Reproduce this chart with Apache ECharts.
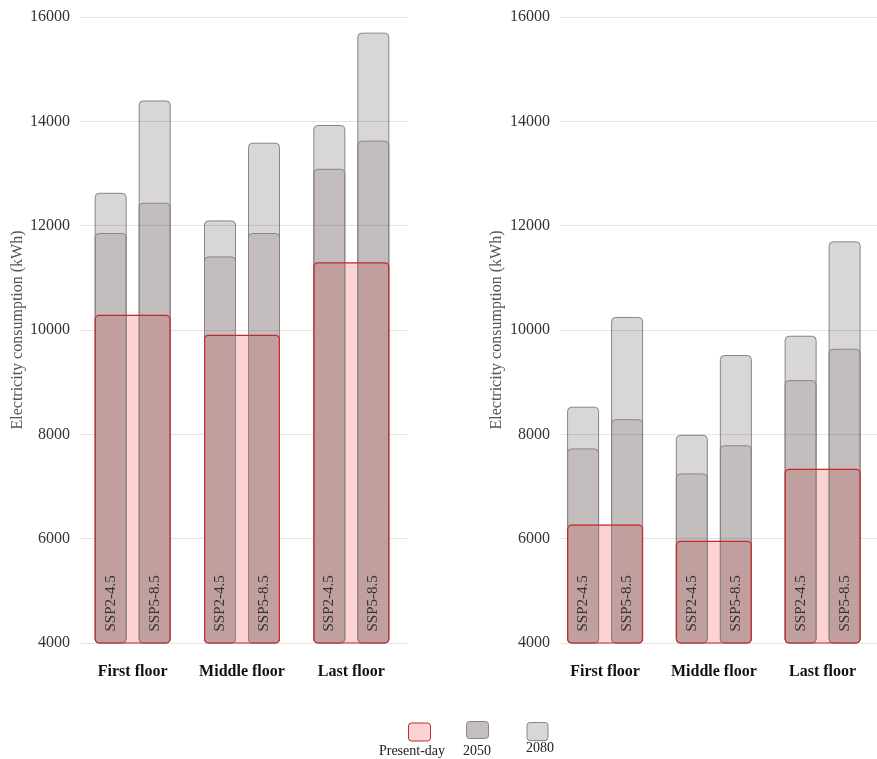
<!DOCTYPE html>
<html>
<head>
<meta charset="utf-8">
<script src="https://cdn.jsdelivr.net/npm/echarts@6/dist/echarts.min.js"></script>
<style>
  html, body { margin: 0; padding: 0; background: #ffffff; }
  #chart { width: 877px; height: 759px; }
</style>
</head>
<body>
<div id="chart"></div>
<script>
// Annual electricity consumption per floor, two building cases side by side
const categories = ['First floor', 'Middle floor', 'Last floor'];
const scenarioLabels = ['SSP2-4.5', 'SSP5-8.5'];
const yMin = 4000, yMax = 16000, yStep = 2000;

// Left panel (kWh)
const leftPresent     = [10290, 9910, 11300];
const left2050Ssp245  = [11860, 11410, 13090];
const left2050Ssp585  = [12440, 11860, 13630];
const left2080Ssp245  = [12630, 12100, 13930];
const left2080Ssp585  = [14400, 13590, 15700];

// Right panel (kWh)
const rightPresent    = [6270, 5960, 7340];
const right2050Ssp245 = [7730, 7250, 9040];
const right2050Ssp585 = [8290, 7790, 9640];
const right2080Ssp245 = [8530, 7990, 9890];
const right2080Ssp585 = [10250, 9520, 11700];

const legendNames = ['Present-day', '2050', '2080'];

const SERIF = '"Liberation Serif", "DejaVu Serif", serif';
const PINK = '#fcd2d2';
const RED = '#c62a2a';
const GREY_EDGE = '#8a8585';
const FILL_2080 = 'rgba(38,27,27,0.18)';
const FILL_2050 = 'rgba(105,80,80,0.18)';

const grids = [], xAxes = [], yAxes = [], series = [];

function addPanel(d, barsGrid, frameGrid, nameGap) {
  const gBars = grids.length;
  grids.push(barsGrid);
  const gFrame = grids.length;
  grids.push(frameGrid);

  const x0 = xAxes.length;
  xAxes.push({
    gridIndex: gBars, type: 'category', data: categories,
    axisLine: { show: false }, axisTick: { show: false },
    axisLabel: { interval: 0, margin: 21, fontFamily: SERIF, fontWeight: 'bold', fontSize: 16, color: '#111' }
  });
  xAxes.push({ gridIndex: gBars, type: 'category', data: categories, show: false });
  xAxes.push({ gridIndex: gBars, type: 'category', data: categories, show: false });
  xAxes.push({ gridIndex: gFrame, type: 'category', data: categories, show: false });

  const y0 = yAxes.length;
  yAxes.push({ gridIndex: gBars, type: 'value', min: yMin, max: yMax, interval: yStep, show: false });
  yAxes.push({
    gridIndex: gFrame, type: 'value', min: yMin, max: yMax, interval: yStep,
    name: 'Electricity consumption (kWh)', nameLocation: 'middle', nameGap: nameGap,
    nameTextStyle: { fontFamily: SERIF, fontSize: 16, color: '#555' },
    axisLine: { show: false }, axisTick: { show: false },
    axisLabel: {
      margin: 10, fontFamily: SERIF, fontSize: 16, color: '#333',
      formatter: v => String(v)
    },
    splitLine: { lineStyle: { color: '#e3e3e3', width: 1 } }
  });

  // present-day fill spans both scenario bars
  series.push({
    type: 'bar', name: legendNames[0], xAxisIndex: x0, yAxisIndex: y0,
    data: d.present, barWidth: 76, barGap: '-100%', silent: true,
    itemStyle: { color: PINK, borderRadius: 4 }
  });
  // 2080 bars
  [d.y2080a, d.y2080b].forEach(vals => series.push({
    type: 'bar', name: legendNames[2], xAxisIndex: x0 + 1, yAxisIndex: y0,
    data: vals, barWidth: 32, barGap: '37.5%', silent: true,
    itemStyle: { color: FILL_2080, borderColor: GREY_EDGE, borderWidth: 1, borderRadius: 4 }
  }));
  // 2050 bars, carrying the scenario names
  [d.y2050a, d.y2050b].forEach((vals, i) => series.push({
    type: 'bar', name: legendNames[1], xAxisIndex: x0 + 2, yAxisIndex: y0,
    data: vals, barWidth: 32, barGap: '37.5%', silent: true,
    itemStyle: { color: FILL_2050, borderColor: GREY_EDGE, borderWidth: 1, borderRadius: 4 },
    label: {
      show: true, position: 'insideBottom', distance: 12, rotate: 90,
      align: 'left', verticalAlign: 'middle',
      formatter: scenarioLabels[i],
      fontFamily: SERIF, fontSize: 15, color: '#333'
    }
  }));
  // present-day outline drawn over the grey bars
  series.push({
    type: 'bar', name: legendNames[0], xAxisIndex: x0, yAxisIndex: y0,
    data: d.present, barWidth: 76, barGap: '-100%', silent: true,
    itemStyle: { color: 'rgba(0,0,0,0)', borderColor: RED, borderWidth: 1.2, borderRadius: 4 }
  });
}

addPanel(
  { present: leftPresent, y2050a: left2050Ssp245, y2050b: left2050Ssp585,
    y2080a: left2080Ssp245, y2080b: left2080Ssp585 },
  { left: 78, width: 328, top: 17, height: 626 },
  { left: 80, width: 327, top: 17, height: 626 },
  50
);
addPanel(
  { present: rightPresent, y2050a: right2050Ssp245, y2050b: right2050Ssp585,
    y2080a: right2080Ssp245, y2080b: right2080Ssp585 },
  { left: 550.7, width: 330, top: 17, height: 626 },
  { left: 560, right: 0, top: 17, height: 626 },
  55
);

// Legend: swatch with its caption underneath
const legendItems = [
  { x: 408, y: 722.5, w: 22, h: 18, fill: PINK, stroke: RED, tx: 412, ty: 751 },
  { x: 466, y: 721, w: 22, h: 17, fill: '#c4bebe', stroke: GREY_EDGE, tx: 477, ty: 751 },
  { x: 526.5, y: 722, w: 21, h: 18, fill: '#d8d6d6', stroke: GREY_EDGE, tx: 540, ty: 748 }
];
const graphic = [];
legendItems.forEach((it, i) => {
  graphic.push({
    type: 'rect', left: it.x, top: it.y, silent: true,
    shape: { width: it.w, height: it.h, r: 3 },
    style: { fill: it.fill, stroke: it.stroke, lineWidth: 1 }
  });
  graphic.push({
    type: 'text', x: it.tx, y: it.ty, silent: true,
    style: {
      text: legendNames[i], fontFamily: SERIF, fontSize: 14, fill: '#222',
      textAlign: 'center', textVerticalAlign: 'middle', align: 'center', verticalAlign: 'middle'
    }
  });
});

const chart = echarts.init(document.getElementById('chart'), null, { renderer: 'canvas' });
chart.setOption({
  animation: false,
  backgroundColor: '#ffffff',
  grid: grids,
  xAxis: xAxes,
  yAxis: yAxes,
  series: series,
  graphic: graphic
});
</script>
</body>
</html>
